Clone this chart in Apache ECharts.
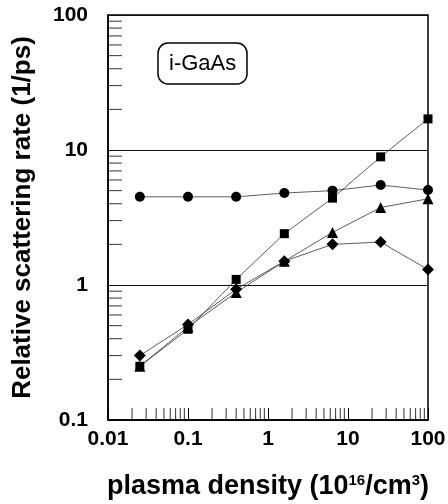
<!DOCTYPE html>
<html>
<head>
<meta charset="utf-8">
<script src="https://cdn.jsdelivr.net/npm/echarts@6/dist/echarts.min.js"></script>
<style>
  html, body { margin: 0; padding: 0; background: #fff; }
  #chart { width: 448px; height: 504px; }
</style>
</head>
<body>
<div id="chart"></div>
<script>
// plasma density (10^16 /cm^3)
var density = [0.025, 0.1, 0.4, 1.6, 6.4, 25.6, 100];
var circles   = [4.5, 4.5, 4.5, 4.8, 5.0, 5.5, 5.05];
var squares   = [0.25, 0.47, 1.1, 2.4, 4.4, 8.9, 17];
var triangles = [0.25, 0.49, 0.88, 1.5, 2.45, 3.75, 4.35];
var diamonds  = [0.3, 0.51, 0.93, 1.5, 2.0, 2.08, 1.3];

// minor tick positions (2..9 of every decade)
var xMinor = [];
var yMinor = [];
[0.01, 0.1, 1, 10].forEach(function (d) {
  for (var k = 2; k <= 9; k++) xMinor.push(+(k * d).toPrecision(3));
});
[0.1, 1, 10].forEach(function (d) {
  for (var k = 2; k <= 9; k++) yMinor.push(+(k * d).toPrecision(3));
});

var FONT = 'Liberation Sans, Arial, sans-serif';

function line(name, data, symbol, size) {
  return {
    name: name,
    type: 'line',
    data: density.map(function (x, i) { return [x, data[i]]; }),
    symbol: symbol,
    symbolSize: size,
    itemStyle: { color: '#000' },
    lineStyle: { color: '#333', width: 0.8 },
    clip: false,
    z: 5
  };
}

var chart = echarts.init(document.getElementById('chart'));
chart.setOption({
  animation: false,
  backgroundColor: '#fff',
  grid: {
    left: 108, right: 20, top: 15, bottom: 84,
    outerBoundsMode: 'none', containLabel: false,
    show: true, borderColor: '#000', borderWidth: 1.5
  },
  title: {
    text: 'i-GaAs',
    left: 158, top: 43,
    padding: [10, 11, 9, 11],
    borderColor: '#000', borderWidth: 1.5, borderRadius: 10,
    textStyle: { fontFamily: FONT, fontSize: 22, fontWeight: 'normal', color: '#000' }
  },
  xAxis: {
    type: 'log', logBase: 10, min: 0.01, max: 100,
    axisLine: { lineStyle: { color: '#000', width: 1.5 } },
    axisTick: { show: true, inside: true, length: 12, lineStyle: { color: '#000', width: 1 } },
    splitLine: { show: false },
    axisLabel: {
      margin: 9, color: '#000', fontFamily: FONT, fontSize: 21, fontWeight: 'bold',
      formatter: function (v) { return String(+v.toPrecision(3)); }
    },
    name: '{a|plasma density (10}{s|16}{a|/cm}{s|3}{a|)}',
    nameLocation: 'middle', nameGap: 53,
    nameTextStyle: {
      rich: {
        a: { fontFamily: FONT, fontSize: 27, fontWeight: 'bold', color: '#000' },
        s: { fontFamily: FONT, fontSize: 15, fontWeight: 'bold', color: '#000', verticalAlign: 'top', padding: [0, 0, 11, 0] }
      }
    }
  },
  yAxis: {
    type: 'log', logBase: 10, min: 0.1, max: 100,
    axisLine: { lineStyle: { color: '#000', width: 1.5 } },
    axisTick: { show: false },
    splitLine: { show: true, lineStyle: { color: '#111', width: 1.2 } },
    axisLabel: {
      margin: 20, color: '#000', fontFamily: FONT, fontSize: 21, fontWeight: 'bold',
      formatter: function (v) { return String(+v.toPrecision(3)); }
    },
    name: 'Relative scattering rate (1/ps)',
    nameLocation: 'middle', nameGap: 72,
    nameTextStyle: { fontFamily: FONT, fontSize: 26, fontWeight: 'bold', color: '#000' }
  },
  series: [
    {
      type: 'scatter', silent: true,
      data: xMinor.map(function (x) { return [x, 0.1]; }),
      symbol: 'rect', symbolSize: [1, 12], symbolOffset: [0, -6],
      itemStyle: { color: '#000' }, clip: false, z: 2
    },
    {
      type: 'scatter', silent: true,
      data: yMinor.map(function (y) { return [0.01, y]; }),
      symbol: 'rect', symbolSize: [14, 1], symbolOffset: [7, 0],
      itemStyle: { color: '#000' }, clip: false, z: 2
    },
    line('circles', circles, 'circle', 10),
    line('squares', squares, 'rect', 9),
    line('triangles', triangles, 'triangle', 11),
    line('diamonds', diamonds, 'diamond', 12)
  ]
});
</script>
</body>
</html>
